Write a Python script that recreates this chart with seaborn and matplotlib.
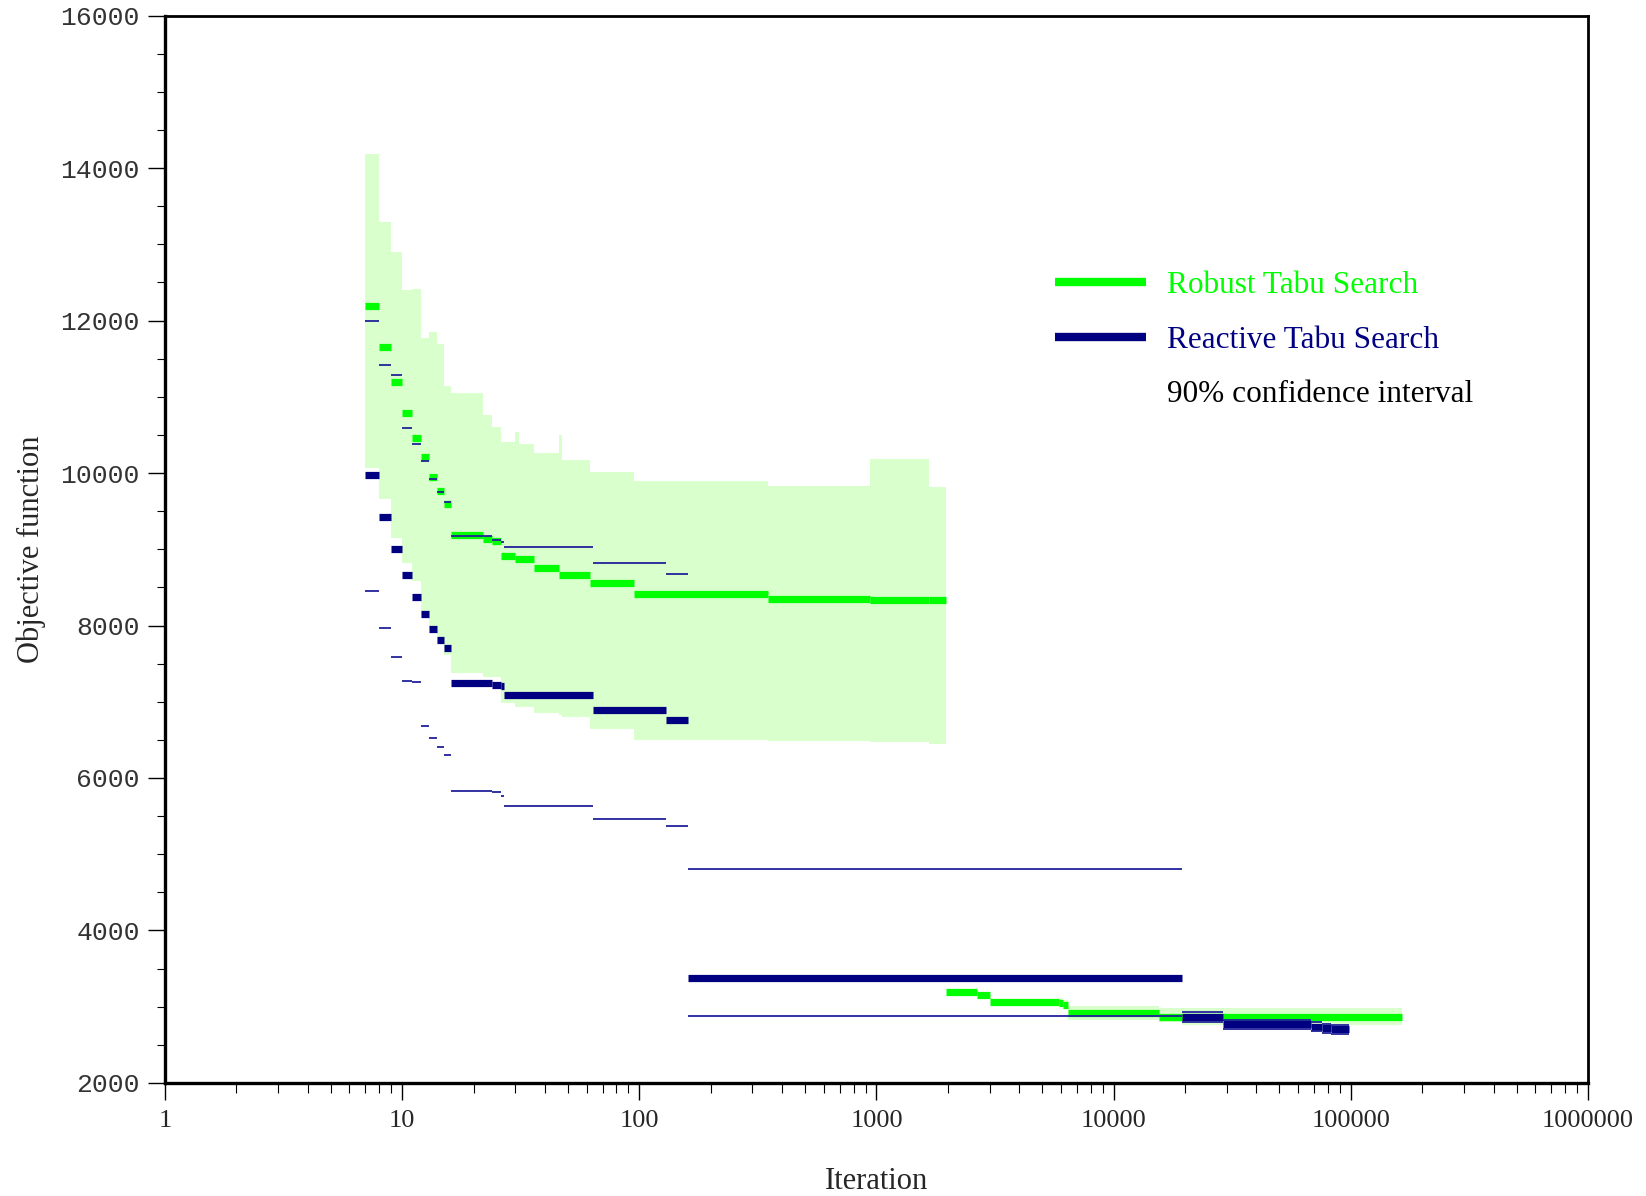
import numpy as np
import pandas as pd
import matplotlib
matplotlib.use("Agg")
import matplotlib.pyplot as plt
from matplotlib.lines import Line2D
from matplotlib.ticker import LogLocator, MultipleLocator, FuncFormatter, NullFormatter
import seaborn as sns

# ---------------- data ----------------
# Robust Tabu Search: step edges (iterations) and values between edges
rts_edges = [7, 8, 9, 10, 11, 12, 13, 14, 15, 16, 22, 24, 26, 30, 36, 46, 62, 95,
             350, 940, 1670, 1970, 2660, 3015, 5890, 6100, 6430, 15600, 19500,
             28800, 164000]
rts_values = [12187, 11650, 11196, 10783, 10453, 10205, 9943, 9764, 9600, 9187,
              9134, 9108, 8911, 8872, 8754, 8662, 8557, 8413, 8348, 8340, 8334,
              3193, 3154, 3062, 3049, 3023, 2918, 2870, 2870, 2861]

# Robust Tabu Search 90% confidence band (two pieces)
rts_band1_edges = [7, 8, 9, 10, 11, 12, 13, 14, 15, 16, 22, 24, 26, 30, 31, 36,
                   46, 47, 62, 95, 350, 940, 1670, 1970]
rts_band1_upper = [14184, 13292, 12898, 12400, 12413, 11770, 11849, 11692, 11141,
                   11049, 10761, 10603, 10407, 10538, 10380, 10262, 10498, 10170,
                   10013, 9895, 9830, 10184, 9816]
rts_band1_lower = [10066, 9659, 9148, 8820, 8584, 8102, 7941, 7770, 7613, 7381,
                   7328, 7328, 6987, 6935, 6930, 6852, 6830, 6804, 6643, 6498,
                   6485, 6472, 6446]
rts_band2_edges = [5890, 6100, 6430, 15600, 19500, 28800, 164000]
rts_band2_upper = [3110, 3090, 3010, 2984, 2984, 2984]
rts_band2_lower = [3000, 2970, 2826, 2800, 2760, 2760]

# Reactive Tabu Search: step edges, values and 90% confidence bounds
react_edges = [7, 8, 9, 10, 11, 12, 13, 14, 15, 16, 24, 26, 27, 64, 129, 160,
               19500, 28800, 67600, 75700, 82400, 98000]
react_values = [9974, 9423, 9003, 8662, 8374, 8151, 7954, 7810, 7705, 7246, 7220,
                7210, 7088, 6892, 6761, 3377, 2870, 2767, 2739, 2718, 2702]
react_upper = [11993, 11416, 11285, 10590, 10380, 10157, 9921, 9751, 9620, 9174,
               9121, 9100, 9030, 8820, 8675, 4808, 2936, 2830, 2800, 2780, 2765]
react_lower = [8452, 7967, 7587, 7272, 7265, 6682, 6525, 6407, 6302, 5830, 5816,
               5764, 5633, 5462, 5370, 2883, 2805, 2705, 2680, 2655, 2640]

legend_labels = ["Robust Tabu Search", "Reactive Tabu Search", "90% confidence interval"]
x_label = "Iteration"
y_label = "Objective function"

GREEN = "#00ff00"
NAVY = "#000080"
BAND = "#d8ffcc"


def seg_frame(edges, values):
    rows = []
    for i, v in enumerate(values):
        rows.append((edges[i], v, i))
        rows.append((edges[i + 1], v, i))
    return pd.DataFrame(rows, columns=["x", "y", "seg"])


sns.set_style("white")
plt.rcParams["font.family"] = ["Liberation Serif", "DejaVu Serif"]

fig = plt.figure(figsize=(16.46, 11.96), dpi=100)
ax = fig.add_axes([0.1002, 0.0945, 0.8646, 0.8925])
ax.set_xscale("log")

# confidence band of the robust tabu search
for e, lo, up in [(rts_band1_edges, rts_band1_lower, rts_band1_upper),
                  (rts_band2_edges, rts_band2_lower, rts_band2_upper)]:
    ax.fill_between(e, lo + [lo[-1]], up + [up[-1]], step="post",
                    color=BAND, lw=0, zorder=1)

# thick step lines (horizontal segments only)
sns.lineplot(data=seg_frame(rts_edges, rts_values), x="x", y="y", units="seg",
             estimator=None, sort=False, color=GREEN, lw=5.2,
             solid_capstyle="butt", legend=False, ax=ax, zorder=3)
sns.lineplot(data=seg_frame(react_edges, react_values), x="x", y="y", units="seg",
             estimator=None, sort=False, color=NAVY, lw=5.2,
             solid_capstyle="butt", legend=False, ax=ax, zorder=4)
# thin confidence bounds of the reactive tabu search
for bound in (react_upper, react_lower):
    sns.lineplot(data=seg_frame(react_edges, bound), x="x", y="y", units="seg",
                 estimator=None, sort=False, color="#22229a", lw=1.3,
                 solid_capstyle="butt", legend=False, ax=ax, zorder=5)

ax.set_xlim(1, 1e6)
ax.set_ylim(2000, 16000)

# ticks
ax.xaxis.set_major_locator(LogLocator(base=10, numticks=10))
ax.xaxis.set_minor_locator(LogLocator(base=10, subs=np.arange(2, 10), numticks=100))
ax.xaxis.set_major_formatter(FuncFormatter(lambda v, p: f"{int(round(v))}"))
ax.xaxis.set_minor_formatter(NullFormatter())
ax.yaxis.set_major_locator(MultipleLocator(2000))
ax.yaxis.set_minor_locator(MultipleLocator(500))
ax.yaxis.set_major_formatter(FuncFormatter(lambda v, p: f"{int(v)}"))

ax.tick_params(axis="both", which="major", direction="out", color="black",
               width=1.0, bottom=True, left=True, top=False, right=False)
ax.tick_params(axis="x", which="major", length=12.5, pad=7, labelsize=19)
ax.tick_params(axis="x", which="minor", direction="out", length=7.5, width=0.8,
               bottom=True, color="black")
ax.tick_params(axis="y", which="major", length=12, pad=6, labelsize=19)
ax.tick_params(axis="y", which="minor", direction="out", length=6, width=0.8,
               left=True, color="black")
for lab in ax.get_yticklabels():
    lab.set_family(["Liberation Mono", "DejaVu Sans Mono"])
    lab.set_color("#333333")

for s in ax.spines.values():
    s.set_color("black")
    s.set_linewidth(2.0)
    s.set_visible(True)
ax.spines["left"].set_linewidth(2.4)
ax.spines["bottom"].set_linewidth(2.4)

ax.set_xlabel(x_label, fontsize=22)
ax.set_ylabel(y_label, fontsize=22)
ax.xaxis.set_label_coords(0.5, -0.079)
ax.yaxis.set_label_coords(-0.0836, 0.5)

handles = [Line2D([], [], color=GREEN, lw=6, solid_capstyle="butt"),
           Line2D([], [], color=NAVY, lw=6, solid_capstyle="butt"),
           Line2D([], [], color="none", lw=6)]
leg = ax.legend(handles, legend_labels, loc="upper left",
                bbox_to_anchor=(0.6254, 0.7607), frameon=False, fontsize=22.5,
                handlelength=2.9, handletextpad=0.68, labelspacing=0.82,
                borderpad=0, borderaxespad=0)
for txt, col in zip(leg.get_texts(), [GREEN, NAVY, "black"]):
    txt.set_color(col)

fig.savefig("out.png", dpi=100, facecolor="white")
